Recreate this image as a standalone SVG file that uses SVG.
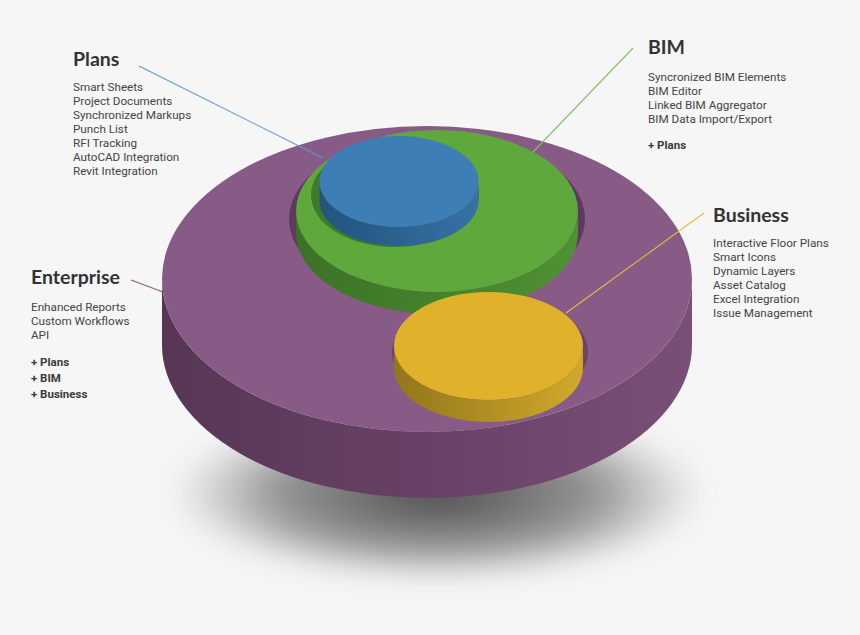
<svg xmlns="http://www.w3.org/2000/svg" width="860" height="635" viewBox="0 0 860 635">
<defs>
<style>
.t{font-family:Lato,"Liberation Sans",sans-serif;font-weight:700;font-size:19.5px;fill:#333}
.b{font-family:Roboto,"Liberation Sans",sans-serif;font-size:11.7px;fill:#444}
.p{font-family:Roboto,"Liberation Sans",sans-serif;font-size:11.5px;font-weight:700;fill:#3a3a3a}
.ln{fill:none;stroke-width:1.1}
</style>
<linearGradient id="gP" x1="0" x2="1" y1="0" y2="0"><stop offset="0" stop-color="#573655"/><stop offset="0.5" stop-color="#684266"/><stop offset="1" stop-color="#7a4f77"/></linearGradient>
<linearGradient id="gG" x1="0" x2="1" y1="0" y2="0"><stop offset="0" stop-color="#3a7226"/><stop offset="1" stop-color="#4f9233"/></linearGradient>
<linearGradient id="gB" x1="0" x2="1" y1="0" y2="0"><stop offset="0" stop-color="#22547f"/><stop offset="0.4" stop-color="#2a5f8c"/><stop offset="1" stop-color="#3672a5"/></linearGradient>
<linearGradient id="gY" x1="0" x2="1" y1="0" y2="0"><stop offset="0" stop-color="#94761b"/><stop offset="0.5" stop-color="#b08f22"/><stop offset="1" stop-color="#d2a92a"/></linearGradient>
<radialGradient id="gS" cx="0.5" cy="0.55" r="0.5"><stop offset="0" stop-color="#444" stop-opacity="0.95"/><stop offset="0.6" stop-color="#555" stop-opacity="0.6"/><stop offset="1" stop-color="#777" stop-opacity="0"/></radialGradient>
<filter id="blur" x="-30%" y="-50%" width="160%" height="200%"><feGaussianBlur stdDeviation="14"/></filter>
</defs>
<rect width="860" height="635" fill="#f6f6f6"/>
<ellipse cx="437" cy="485" rx="270" ry="90" fill="url(#gS)" filter="url(#blur)"/>

<g id="node-enterprise">
<path d="M162,279 L162,345 A265,153 0 0 0 692,345 L692,279 A265,153 0 0 1 162,279 Z" fill="url(#gP)"/>
<ellipse cx="427" cy="279" rx="265" ry="153" fill="#885a86"/>
<ellipse cx="437" cy="219" rx="148" ry="85" fill="#5e3a5c"/>
<ellipse cx="490" cy="352" rx="98" ry="57" fill="#6c4469"/>
<text class="t" x="31" y="284">Enterprise</text>
<text class="b" x="31" y="311">Enhanced Reports</text>
<text class="b" x="31" y="325">Custom Workflows</text>
<text class="b" x="31" y="339">API</text>
<text class="p" x="31" y="366">+ Plans</text>
<text class="p" x="31" y="382">+ BIM</text>
<text class="p" x="31" y="398">+ Business</text>
</g>

<g id="node-bim">
<path d="M296,211 L296,233 A141,81 0 0 0 578,233 L578,211 A141,81 0 0 1 296,211 Z" fill="url(#gG)"/>
<ellipse cx="437" cy="211" rx="141" ry="81" fill="#5fa83b"/>
<ellipse cx="395" cy="195" rx="84" ry="52" fill="#3e7a2a"/>
<text class="t" x="648" y="54">BIM</text>
<text class="b" x="648" y="81">Syncronized BIM Elements</text>
<text class="b" x="648" y="95">BIM Editor</text>
<text class="b" x="648" y="109">Linked BIM Aggregator</text>
<text class="b" x="648" y="123">BIM Data Import/Export</text>
<text class="p" x="648" y="149">+ Plans</text>
</g>

<g id="node-plans">
<path d="M319.5,181.5 L319.5,200.5 A79.5,45.5 0 0 0 478.5,200.5 L478.5,181.5 A79.5,45.5 0 0 1 319.5,181.5 Z" fill="url(#gB)"/>
<ellipse cx="399" cy="181.5" rx="79.5" ry="45.5" fill="#3d7eb7"/>
<text class="t" x="73" y="66">Plans</text>
<text class="b" x="73" y="91">Smart Sheets</text>
<text class="b" x="73" y="105">Project Documents</text>
<text class="b" x="73" y="119">Synchronized Markups</text>
<text class="b" x="73" y="133">Punch List</text>
<text class="b" x="73" y="147">RFI Tracking</text>
<text class="b" x="73" y="161">AutoCAD Integration</text>
<text class="b" x="73" y="175">Revit Integration</text>
</g>

<g id="node-business">
<path d="M394,346 L394,368 A94.5,54 0 0 0 583,368 L583,346 A94.5,54 0 0 1 394,346 Z" fill="url(#gY)"/>
<ellipse cx="488.5" cy="346" rx="94.5" ry="54" fill="#e0b22c"/>
<text class="t" x="713" y="222">Business</text>
<text class="b" x="713" y="247">Interactive Floor Plans</text>
<text class="b" x="713" y="261">Smart Icons</text>
<text class="b" x="713" y="275">Dynamic Layers</text>
<text class="b" x="713" y="289">Asset Catalog</text>
<text class="b" x="713" y="303">Excel Integration</text>
<text class="b" x="713" y="317">Issue Management</text>
</g>

<g id="connectors">
<line class="ln" x1="139" y1="66" x2="323" y2="158" stroke="#5a98d2"/>
<line class="ln" x1="633" y1="48" x2="533" y2="152" stroke="#82c266"/>
<line class="ln" x1="704" y1="213" x2="566" y2="313" stroke="#e8bb40"/>
<line class="ln" x1="131" y1="280" x2="163" y2="292" stroke="#8a5a87"/>
</g>
</svg>
